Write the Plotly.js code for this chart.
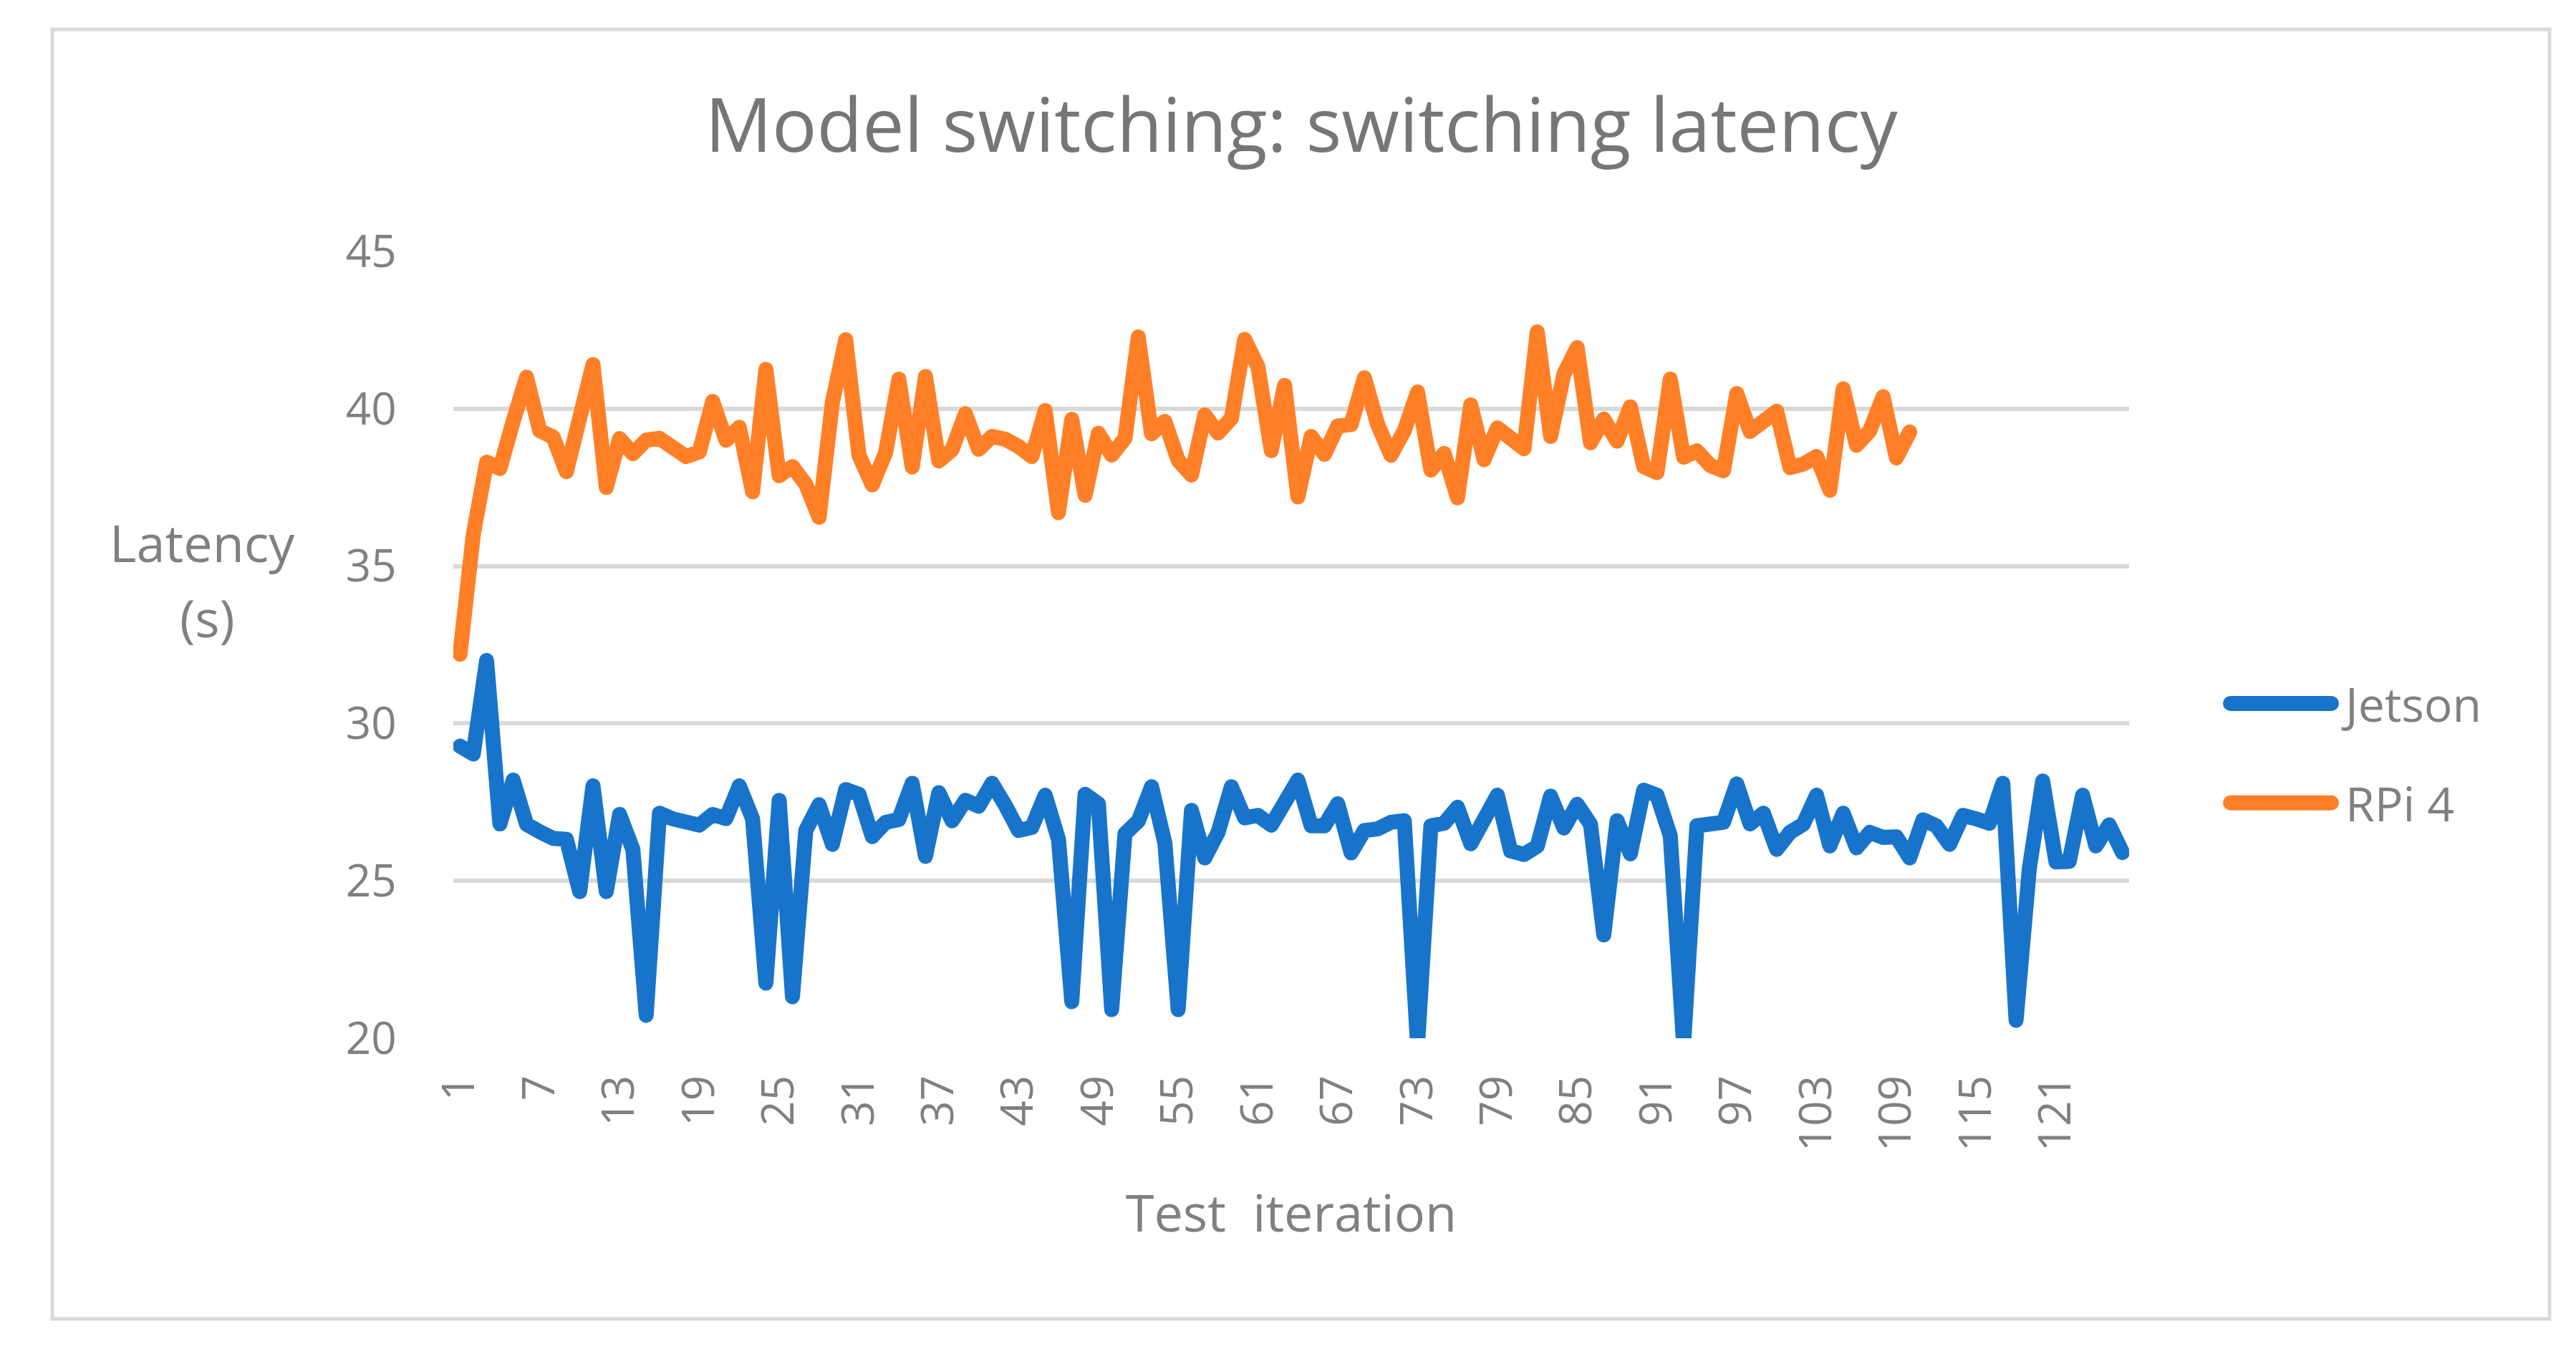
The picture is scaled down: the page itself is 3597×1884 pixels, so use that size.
<!DOCTYPE html>
<html>
<head>
<meta charset="utf-8">
<script src="https://cdn.plot.ly/plotly-3.0.1.min.js"></script>
<style>
html,body{margin:0;padding:0;background:#fff;}
#chart{width:3597px;height:1884px;}
</style>
</head>
<body>
<div id="chart"></div>
<script>
// ---- data ----
var chartTitle = "Model switching: switching latency";
var seriesNames = ["Jetson", "RPi 4"];
var xTickLabels = [1,7,13,19,25,31,37,43,49,55,61,67,73,79,85,91,97,103,109,115,121];

var jetson = [
29.28,29.03,32.0,26.81,28.2,26.8,26.56,26.35,26.32,24.66,
28.02,24.66,27.11,26.0,20.73,27.15,26.97,26.84,26.77,27.11,
26.98,28.02,26.97,21.75,27.56,21.32,26.6,27.42,26.16,27.9,
27.75,26.41,26.86,26.95,28.1,25.78,27.8,26.91,27.56,27.37,
28.1,27.4,26.6,26.7,27.72,26.32,21.16,27.75,27.45,20.91,
26.5,26.9,27.99,26.2,20.91,27.24,25.73,26.54,27.99,27.0,
27.08,26.77,27.56,28.2,26.75,26.75,27.45,25.89,26.6,26.65,
26.86,26.91,19.8,26.75,26.83,27.34,26.18,27.0,27.72,25.95,
25.84,26.1,27.69,26.68,27.43,26.8,23.28,26.91,25.86,27.88,
27.72,26.43,19.8,26.75,26.8,26.86,28.08,26.81,27.15,26.0,
26.54,26.8,27.72,26.11,27.15,26.05,26.54,26.38,26.4,25.73,
26.94,26.75,26.16,27.08,26.97,26.83,28.1,20.57,25.4,28.17,
25.6,25.62,27.72,26.11,26.78,25.9
];

var rpi4 = [
32.2,36.0,38.3,38.1,39.6,41.0,39.3,39.1,38.0,39.7,
41.4,37.5,39.05,38.57,39.0,39.06,38.83,38.48,38.63,40.23,
39.0,39.41,37.36,41.25,37.87,38.16,37.6,36.55,40.2,42.19,
38.52,37.58,38.6,40.94,38.15,41.02,38.34,38.7,39.84,38.71,
39.12,39.03,38.8,38.48,39.94,36.7,39.66,37.25,39.22,38.53,
39.06,42.28,39.2,39.6,38.36,37.89,39.8,39.23,39.7,42.2,
41.33,38.67,40.74,37.2,39.12,38.55,39.45,39.5,40.98,39.5,
38.52,39.3,40.53,38.05,38.58,37.17,40.12,38.38,39.39,39.0,
38.73,42.44,39.12,41.1,41.94,38.92,39.67,38.97,40.06,38.16,
37.97,40.94,38.46,38.66,38.2,38.03,40.48,39.28,39.62,39.92,
38.13,38.24,38.48,37.41,40.63,38.84,39.3,40.38,38.44,39.26
];

// ---- build ----
function idx(arr){ var o=[]; for (var i=0;i<arr.length;i++) o.push(i+1); return o; }

var FONT = "Open Sans, Lato, sans-serif";
var GRAY = "#808080";
var LW = 21;

var traces = [
  {x: idx(jetson), y: jetson, name: seriesNames[0], type: "scatter", mode: "lines",
   line: {color: "#1874CA", width: LW}, legendgroup: "a"},
  {x: idx(rpi4), y: rpi4, name: seriesNames[1], type: "scatter", mode: "lines",
   line: {color: "#FF7F27", width: LW}, legendgroup: "b"}
];

var W = 3597, H = 1884, L = 633, R = 2973, T = 351, B = 1450;
function px(x){ return (x - L) / (R - L); }
function py(y){ return (B - y) / (B - T); }

var layout = {
  width: W, height: H,
  margin: {l: L, r: W - R, t: T, b: H - B, pad: 0},
  paper_bgcolor: "#ffffff", plot_bgcolor: "#ffffff",
  font: {family: FONT, color: GRAY, size: 62},
  title: {text: chartTitle, font: {family: FONT, size: 104, color: "#767676"},
          x: px(1817), xref: "paper", xanchor: "center",
          y: py(188), yref: "paper", yanchor: "middle"},
  xaxis: {
    range: [0.5, jetson.length + 0.5],
    tickmode: "array", tickvals: xTickLabels, ticktext: xTickLabels.map(String),
    tickangle: -90, ticks: "outside", ticklen: 26, tickcolor: "rgba(0,0,0,0)",
    showgrid: false, zeroline: false, showline: false,
    tickfont: {family: FONT, size: 62, color: GRAY},
    title: {text: "Test\u00a0\u00a0iteration", font: {family: FONT, size: 72, color: GRAY}, standoff: 62},
    automargin: false, fixedrange: true
  },
  yaxis: {
    range: [20, 45], tickmode: "linear", tick0: 20, dtick: 5,
    ticks: "outside", ticklen: 66, tickcolor: "rgba(0,0,0,0)",
    showgrid: true, gridcolor: "#D9D9D9", gridwidth: 6,
    zeroline: false, showline: false,
    tickfont: {family: FONT, size: 62, color: GRAY},
    automargin: false, fixedrange: true
  },
  showlegend: true,
  legend: {
    x: px(3095), xanchor: "left", y: py(1052), yanchor: "middle",
    font: {family: FONT, size: 66, color: GRAY},
    itemwidth: 170, traceorder: "grouped", tracegroupgap: 50,
    bgcolor: "rgba(0,0,0,0)", borderwidth: 0
  },
  annotations: [
    {text: "Latency", xref: "paper", yref: "paper", x: px(282), y: py(757),
     xanchor: "center", yanchor: "middle", showarrow: false,
     font: {family: FONT, size: 72, color: GRAY}},
    {text: "(s)", xref: "paper", yref: "paper", x: px(289), y: py(862),
     xanchor: "center", yanchor: "middle", showarrow: false,
     font: {family: FONT, size: 72, color: GRAY}}
  ],
  shapes: [
    {type: "rect", xref: "paper", yref: "paper",
     x0: px(73), x1: px(3560), y0: py(1842), y1: py(41),
     line: {color: "#D9D9D9", width: 5}, fillcolor: "rgba(0,0,0,0)", layer: "below"}
  ]
};

Plotly.newPlot("chart", traces, layout, {displayModeBar: false, staticPlot: true}).then(function(gd){
  // rounded joins like the original chart, and full-weight legend samples
  gd.querySelectorAll(".scatterlayer path.js-line").forEach(function(p){
    p.style.strokeLinejoin = "round";
    p.style.strokeLinecap = "round";
  });
  gd.querySelectorAll(".legend path.js-line").forEach(function(p){
    p.style.strokeWidth = LW + "px";
    try {
      var bb = p.getBBox();
      if (bb && bb.width > 2 * LW) {
        var inset = LW / 2 + 4;
        var yMid = bb.y + bb.height / 2;
        p.setAttribute("d", "M" + (bb.x + inset) + "," + yMid + "h" + (bb.width - 2 * inset));
        p.style.strokeLinecap = "round";
      }
    } catch (e) {}
  });
});
</script>
</body>
</html>
